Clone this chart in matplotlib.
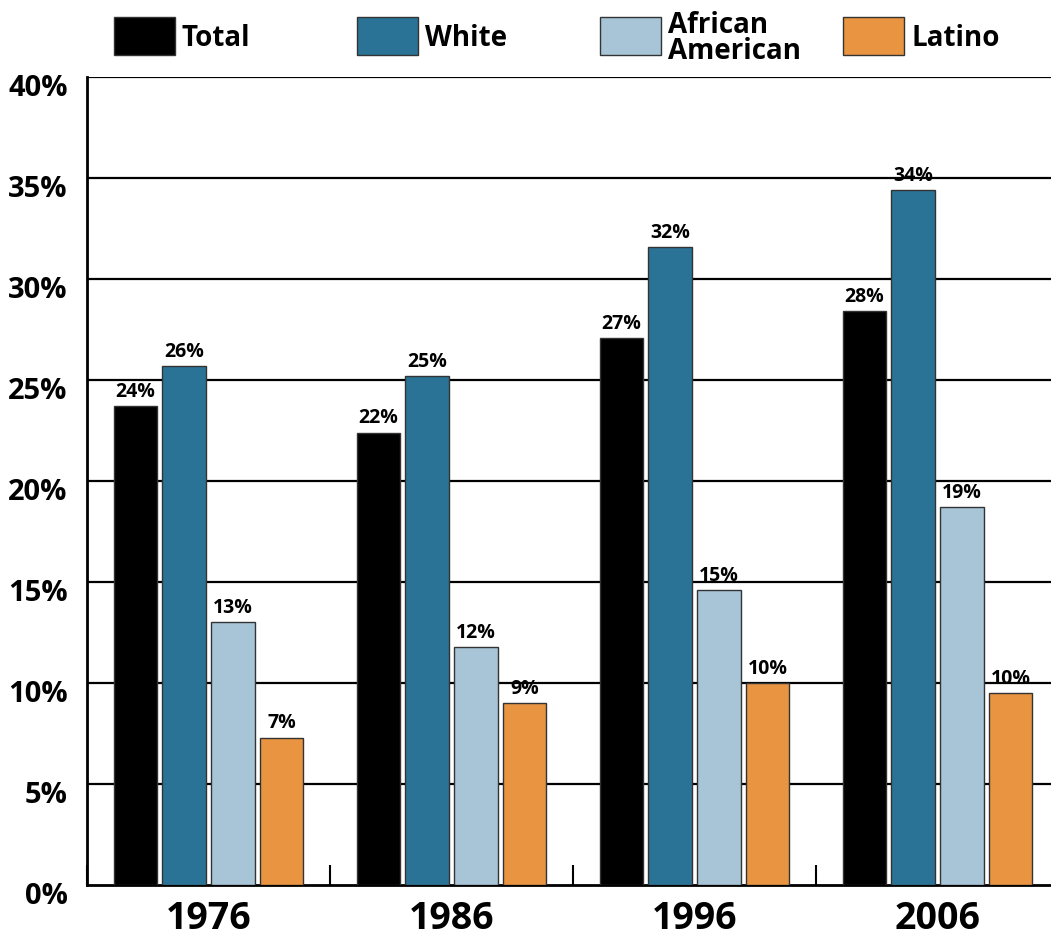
import numpy as np
import matplotlib
matplotlib.use("Agg")
import matplotlib.pyplot as plt
from matplotlib.patches import Rectangle
import matplotlib.transforms as mtransforms

plt.rcParams['font.family'] = ['Open Sans', 'DejaVu Sans']
plt.rcParams['font.weight'] = 'bold'

# Daten
years = ["1976", "1986", "1996", "2006"]
series = ["Total", "White", "African\nAmerican", "Latino"]
total = [23.7, 22.4, 27.1, 28.4]
white = [25.7, 25.2, 31.6, 34.4]
african_american = [13.0, 11.8, 14.6, 18.7]
latino = [7.3, 9.0, 10.0, 9.5]
total_labels = ["24%", "22%", "27%", "28%"]
white_labels = ["26%", "25%", "32%", "34%"]
aa_labels = ["13%", "12%", "15%", "19%"]
latino_labels = ["7%", "9%", "10%", "10%"]
yticks = [0, 5, 10, 15, 20, 25, 30, 35, 40]

colors = ["#000000", "#2a7396", "#a7c5d6", "#e89440"]
values = [total, white, african_american, latino]
labels = [total_labels, white_labels, aa_labels, latino_labels]

fig = plt.figure(figsize=(10.51, 9.37), dpi=100)
ax = fig.add_axes([87/1051, 51/937, (1051-87)/1051, 808/937])

x = np.arange(len(years))
offsets = [-0.3, -0.1, 0.1, 0.3]
width = 0.18

for vals, labs, col, off in zip(values, labels, colors, offsets):
    bars = ax.bar(x + off, vals, width, color=col, edgecolor="#333333",
                  linewidth=1.0, zorder=3)
    for b, lab in zip(bars, labs):
        ax.text(b.get_x() + b.get_width()/2, b.get_height() + 0.25, lab,
                ha="center", va="bottom", fontsize=14, fontweight="bold", zorder=4)

# Gitterlinien
for t in yticks[1:]:
    ax.axhline(t, color="black", linewidth=1.6, zorder=1)

ax.set_ylim(0, 40)
ax.set_xlim(-0.5, 3.5 - 8/243)
ax.set_yticks(yticks)
ax.set_yticklabels([f"{t}%" for t in yticks], fontsize=21, fontweight="bold")
ax.tick_params(axis="y", length=0, pad=14)
shift = mtransforms.ScaledTranslation(0, -7/100, fig.dpi_scale_trans)
for lab in ax.get_yticklabels():
    lab.set_transform(lab.get_transform() + shift)
ax.set_xticks(x)
ax.set_xticklabels(years, fontsize=27, fontweight="bold")
ax.tick_params(axis="x", which="major", length=0, pad=10)
ax.set_xticks([-0.5, 0.5, 1.5, 2.5], minor=True)
ax.tick_params(axis="x", which="minor", direction="in", length=14.4, width=1.5)

for s in ["top", "right"]:
    ax.spines[s].set_visible(False)
ax.spines["left"].set_linewidth(2)
ax.spines["bottom"].set_linewidth(2)

# Legende
trans = mtransforms.blended_transform_factory(ax.transData, ax.transAxes)
for i, (name, col) in enumerate(zip(series, colors)):
    x0 = i - 0.5 + 27/243
    ax.add_patch(Rectangle((x0, 1.0272), 61/243, 0.0471, transform=trans,
                           facecolor=col, edgecolor="#333333", linewidth=1.0,
                           clip_on=False))
    ax.text(x0 + 68/243, 1.0485, name, transform=trans, ha="left", va="center",
            fontsize=20, fontweight="bold", linespacing=0.85)

fig.savefig("out.png", dpi=100)
